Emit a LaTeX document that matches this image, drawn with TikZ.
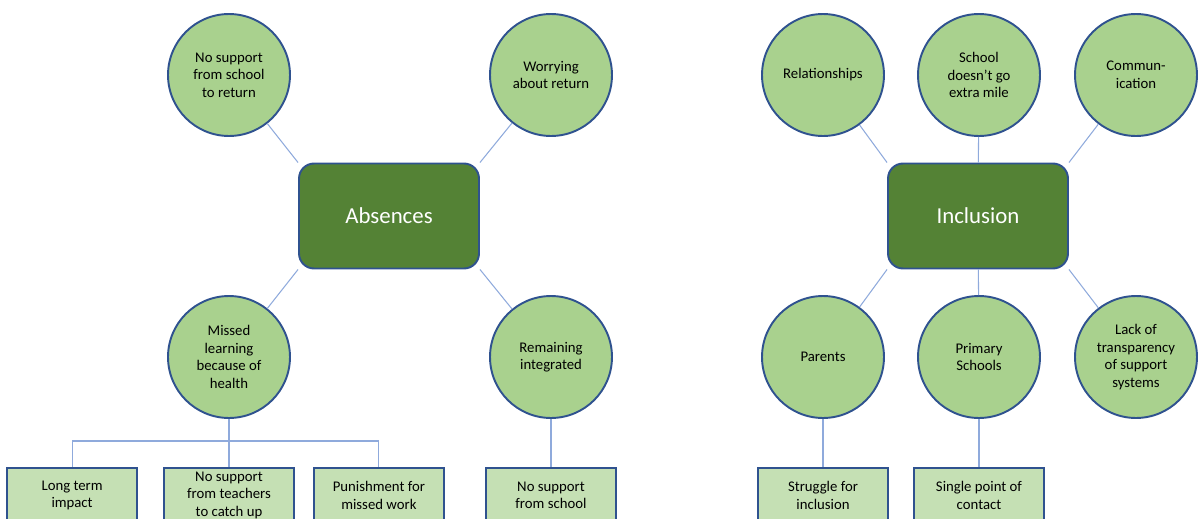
\documentclass[tikz,border=0pt]{standalone}
\usepackage{fontspec}
\setmainfont{Carlito}
\usepackage{xcolor}
\usepackage{tikz}
\usetikzlibrary{positioning}
\definecolor{circfill}{HTML}{A9D18E}
\definecolor{hubfill}{HTML}{548235}
\definecolor{leaffill}{HTML}{C5E0B4}
\definecolor{rimblue}{HTML}{2F528F}
\definecolor{linkblue}{HTML}{8FAADC}

\begin{document}
\begin{tikzpicture}[
      x=0.02cm, y=-0.02cm,
      node distance=0.96cm and 0.5cm,
      topic/.style={draw=rimblue,line width=1.1pt,fill=circfill,circle,minimum size=2.44cm,inner sep=0pt,align=center,font=\fontsize{8.4}{10}\selectfont},
      hub/.style={draw=rimblue,line width=1.1pt,fill=hubfill,rounded corners=0.3cm,minimum width=3.6cm,minimum height=2.1cm,text=white,font=\fontsize{13}{15}\selectfont},
      leaf/.style={draw=rimblue,line width=1.1pt,fill=leaffill,minimum width=2.6cm,minimum height=1.1cm,inner sep=0.5pt,align=center,font=\fontsize{8.4}{10}\selectfont},
      link/.style={draw=linkblue,line width=0.6pt}
      ]

      \useasboundingbox (0,0) rectangle (1198,518);
      \clip (0,0) rectangle (1198,518);

      % absences
      \node[hub] (abs) at (389,216) {Absences};
      \node[topic] (noret) at (229,75) {No support\\from school\\to return};
      \node[topic] (worry) at (551,75) {Worrying\\about return};
      \node[topic] (missed) at (229,357) {Missed\\learning\\because of\\health};
      \node[topic] (remain) at (551,357) {Remaining\\integrated};

      \node[leaf, below=of missed] (teach) {No support\\from teachers\\to catch up};
      \node[leaf, left=0.5cm of teach] (longterm) {Long term\\impact};
      \node[leaf, right=0.36cm of teach] (punish) {Punishment for\\missed work};
      \node[leaf, below=of remain] (nosupp) {No support\\from school};

      % inclusion
      \node[hub] (incl) at (978,216) {Inclusion};
      \node[topic] (relat) at (823,75) {Relationships};
      \node[topic] (extra) at (979,75) {School\\doesn't go\\extra mile};
      \node[topic] (comm) at (1136,75) {Commun-\\ication};
      \node[topic] (parent) at (823,357) {Parents};
      \node[topic] (primary) at (979,357) {Primary\\Schools};
      \node[topic] (transp) at (1136,357) {Lack of\\transparency\\of support\\systems};

      \node[leaf, below=of parent] (struggle) {Struggle for\\inclusion};
      \node[leaf, below=of primary] (single) {Single point of\\contact};

      \path (noret) edge[link] (abs.north west)
      (worry) edge[link] (abs.north east)
      (missed) edge[link] (abs.south west)
      (remain) edge[link] (abs.south east)
      (missed) edge[link] (teach)
      (remain) edge[link] (nosupp)
      ;
      \coordinate (fork) at (229,441);
      \draw[link] (longterm) |- (fork) -| (punish);

      \path (relat) edge[link] (incl.north west)
      (extra) edge[link] (incl)
      (comm) edge[link] (incl.north east)
      (parent) edge[link] (incl.south west)
      (primary) edge[link] (incl)
      (transp) edge[link] (incl.south east)
      (parent) edge[link] (struggle)
      (primary) edge[link] (single)
      ;

    \end{tikzpicture}
\end{document}
